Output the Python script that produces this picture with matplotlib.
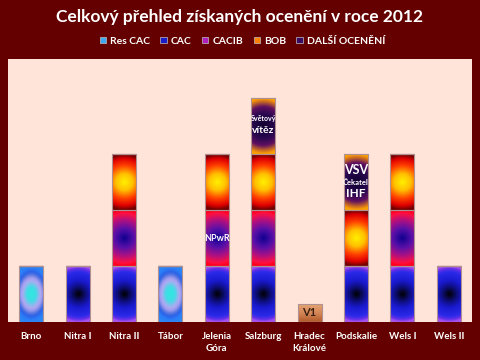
import numpy as np
import matplotlib.pyplot as plt
import matplotlib.colors as mcolors
import matplotlib.patches as mpatches

plt.rcParams['font.family'] = ['Lato', 'DejaVu Sans']

categories = ['Brno', 'Nitra I', 'Nitra II', 'Tábor', 'Jelenia\nGóra', 'Salzburg',
              'Hradec\nKrálové', 'Podskalie', 'Wels I', 'Wels II']
res_cac = [1, 0, 0, 1, 0, 0, 0, 0, 0, 0]
cac = [0, 1, 1, 0, 1, 1, 0, 1, 1, 1]
cacib = [0, 0, 1, 0, 1, 1, 0, 0, 1, 0]
bob = [0, 0, 1, 0, 1, 1, 0, 1, 1, 0]
dalsi = [0, 0, 0, 0, 0, 1, 0, 1, 0, 0]
v1 = [0, 0, 0, 0, 0, 0, 0.33, 0, 0, 0]

bg = '#640000'
plot_bg = '#ffe4da'


def cm(name, stops, scale=1.0):
    return mcolors.LinearSegmentedColormap.from_list(name, [(p / scale, c) for p, c in stops])


# radial gradient colour maps for each series
cmaps = {
    'Res CAC': cm('res', [(0, '#30e8e0'), (0.25, '#40dce6'), (0.38, '#80c0ec'), (0.5, '#b0a8f2'),
                          (0.6, '#9898ee'), (0.7, '#5a78e0'), (0.8, '#2c62e8'),
                          (0.95, '#2a80f8'), (1.3, '#2a90f0')], scale=1.3),
    'CAC': cm('cac', [(0, '#000000'), (0.3, '#10108a'), (0.5, '#1a1ad0'), (0.8, '#2a2ae8'),
                      (0.93, '#6a30e8'), (1, '#a850f0')]),
    'CACIB': cm('cacib', [(0, '#100090'), (0.35, '#5a10a8'), (0.65, '#b01080'), (0.9, '#ff1040'),
                          (1, '#ff0020')]),
    'BOB': cm('bob', [(0, '#fff000'), (0.3, '#ffc000'), (0.6, '#ff4000'), (0.85, '#e00000'),
                      (1, '#700000')]),
    'DALŠÍ OCENĚNÍ': cm('dalsi', [(0, '#100030'), (0.45, '#2a0850'), (0.7, '#601060'),
                                  (0.9, '#d07020'), (1, '#ffa000')]),
    'V1': cm('v1', [(0, '#e8a878'), (0.6, '#d08050'), (1, '#b05828')]),
}
legend_colors = {'Res CAC': '#40a8f0', 'CAC': '#1a1ac8', 'CACIB': '#b020c0',
                 'BOB': '#ff8000', 'DALŠÍ OCENĚNÍ': '#3a0a60'}

fig = plt.figure(figsize=(4.8, 3.6), dpi=100, facecolor=bg)
ax = fig.add_axes([8 / 480, 38 / 360, 464 / 480, 263 / 360])
ax.set_facecolor(plot_bg)
ymax = 4.7
x = np.arange(len(categories))

px_y = 263 / ymax
px_x = 464 / len(categories)


def fill_gradient(patch, name):
    x0, y0 = patch.get_x(), patch.get_y()
    w, h = patch.get_width(), patch.get_height()
    if h <= 0:
        return
    wpx, hpx = w * px_x, h * px_y
    U, V = np.meshgrid(np.linspace(-wpx / 2, wpx / 2, 40), np.linspace(-hpx / 2, hpx / 2, 80))
    if name == 'V1':
        r = 1 - (V + hpx / 2) / hpx
    elif name == 'Res CAC':
        r = np.sqrt((U / 0.64) ** 2 + V ** 2) / (px_y / 2) / 1.3
    else:
        r = np.sqrt(U ** 2 + V ** 2) / (px_y / 2)
    im = ax.imshow(np.clip(r, 0, 1), extent=[x0, x0 + w, y0, y0 + h], origin='lower',
                   aspect='auto', cmap=cmaps[name], vmin=0, vmax=1, interpolation='bilinear',
                   zorder=2)
    im.set_clip_path(patch)


series = [('Res CAC', res_cac), ('CAC', cac), ('CACIB', cacib), ('BOB', bob),
          ('DALŠÍ OCENĚNÍ', dalsi), ('V1', v1)]
bottom = np.zeros(len(categories))
handles = []
for name, vals in series:
    vals = np.array(vals, dtype=float)
    bars = ax.bar(x, vals, width=0.52, bottom=bottom, facecolor='none',
                  edgecolor='#b09090', linewidth=0.8, zorder=3)
    for b in bars:
        fill_gradient(b, name)
    bottom += vals
    if name in legend_colors:
        handles.append(mpatches.Patch(facecolor=legend_colors[name], edgecolor='#c0c0c0',
                                      linewidth=0.5, label=name))

ax.set_ylim(0, ymax)
ax.set_xlim(-0.5, len(categories) - 0.5)

# labels inside segments
wt = dict(color='white', fontweight='bold', ha='center', va='center', zorder=5)
ax.text(4, 1.5, 'NPwR', fontsize=6.5, **wt)
ax.text(5, 3.64, 'Světový', fontsize=5, **wt)
ax.text(5, 3.43, 'vítěz', fontsize=7.5, **wt)
ax.text(7, 2.72, 'VSV', fontsize=9, **wt)
ax.text(7, 2.5, 'Čekatel', fontsize=5.5, **wt)
ax.text(7, 2.29, 'IHF', fontsize=8.5, **wt)
ax.text(6, 0.165, 'V1', fontsize=8, color='#3a2010', fontweight='bold',
        ha='center', va='center', zorder=5)

ax.set_xticks(x)
ax.set_xticklabels(categories, color='white', fontweight='bold', fontsize=7, linespacing=1.5)
ax.tick_params(axis='x', length=0, pad=7)
ax.set_yticks([])
for s in ax.spines.values():
    s.set_visible(False)

fig.text(0.5, 1 - 17 / 360, 'Celkový přehled získaných ocenění v roce 2012', color='white',
         fontsize=12.5, fontweight='bold', ha='center', va='center')
fig.legend(handles=handles, loc='center', bbox_to_anchor=(0.505, 1 - 41 / 360), ncol=5,
           frameon=False, handlelength=0.6, handleheight=0.6, handletextpad=0.4,
           columnspacing=1.0, prop={'weight': 'bold', 'size': 7.5}, labelcolor='white')

fig.savefig('out.png', dpi=100, facecolor=bg)
